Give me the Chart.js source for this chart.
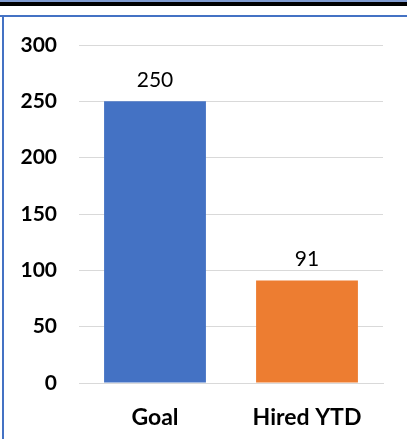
<!DOCTYPE html>
<html>
<head>
<meta charset="utf-8">
<script src="https://cdn.jsdelivr.net/npm/chart.js@4/dist/chart.umd.min.js"></script>
<style>
    body { margin: 0; background: #fff; }
    #wrap { position: relative; width: 407px; height: 439px; overflow: hidden; }
    #chart { position: absolute; left: 0; top: 0; }
    .band { position: absolute; left: 0; width: 407px; }
</style>
</head>
<body>
<div id="wrap">
    <canvas id="chart" width="407" height="439"></canvas>
    <div class="band" style="top:0;height:2px;background:#7f9bd1;"></div>
    <div class="band" style="top:2px;height:4px;background:#000;"></div>
    <div class="band" style="top:15px;height:2px;background:#4472c4;"></div>
    <div style="position:absolute;left:2px;top:15px;width:2px;height:424px;background:#4472c4;"></div>
</div>
<script>
// Chart data
const categories = ["Goal", "Hired YTD"];
const values = [250, 91];
const barColors = ["#4472c4", "#ed7d31"];
const yTicks = [0, 50, 100, 150, 200, 250, 300];

const fontFamily = "Lato, 'Open Sans', sans-serif";

// Draw the value above each bar
const valueLabels = {
    id: "valueLabels",
    afterDatasetsDraw(chart) {
        const ctx = chart.ctx;
        const meta = chart.getDatasetMeta(0);
        ctx.save();
        ctx.font = "21px " + fontFamily;
        ctx.fillStyle = "#000";
        ctx.textAlign = "center";
        ctx.textBaseline = "bottom";
        meta.data.forEach((bar, i) => {
            ctx.fillText(values[i], bar.x, bar.y - 11);
        });
        ctx.restore();
    }
};

new Chart(document.getElementById("chart").getContext("2d"), {
    type: "bar",
    data: {
        labels: categories,
        datasets: [{
            data: values,
            backgroundColor: barColors,
            categoryPercentage: 1,
            barPercentage: 0.67
        }]
    },
    options: {
        responsive: false,
        animation: false,
        layout: { padding: { top: 45, right: 24, left: 0, bottom: 0 } },
        plugins: {
            legend: { display: false },
            tooltip: { enabled: false }
        },
        scales: {
            x: {
                grid: { display: false },
                border: { color: "#d9d9d9", width: 1 },
                ticks: {
                    color: "#000",
                    font: { family: fontFamily, size: 23, weight: "bold" },
                    padding: 13
                },
                afterFit(scale) { scale.height = 56; }
            },
            y: {
                min: 0,
                max: 300,
                afterBuildTicks(scale) {
                    scale.ticks = yTicks.map(v => ({ value: v }));
                },
                grid: { color: "#d9d9d9", drawTicks: false },
                border: { display: false },
                ticks: {
                    color: "#000",
                    font: { family: fontFamily, size: 21, weight: "bold" },
                    padding: 22
                },
                afterFit(scale) { scale.width = 79; }
            }
        }
    },
    plugins: [valueLabels]
});
</script>
</body>
</html>
